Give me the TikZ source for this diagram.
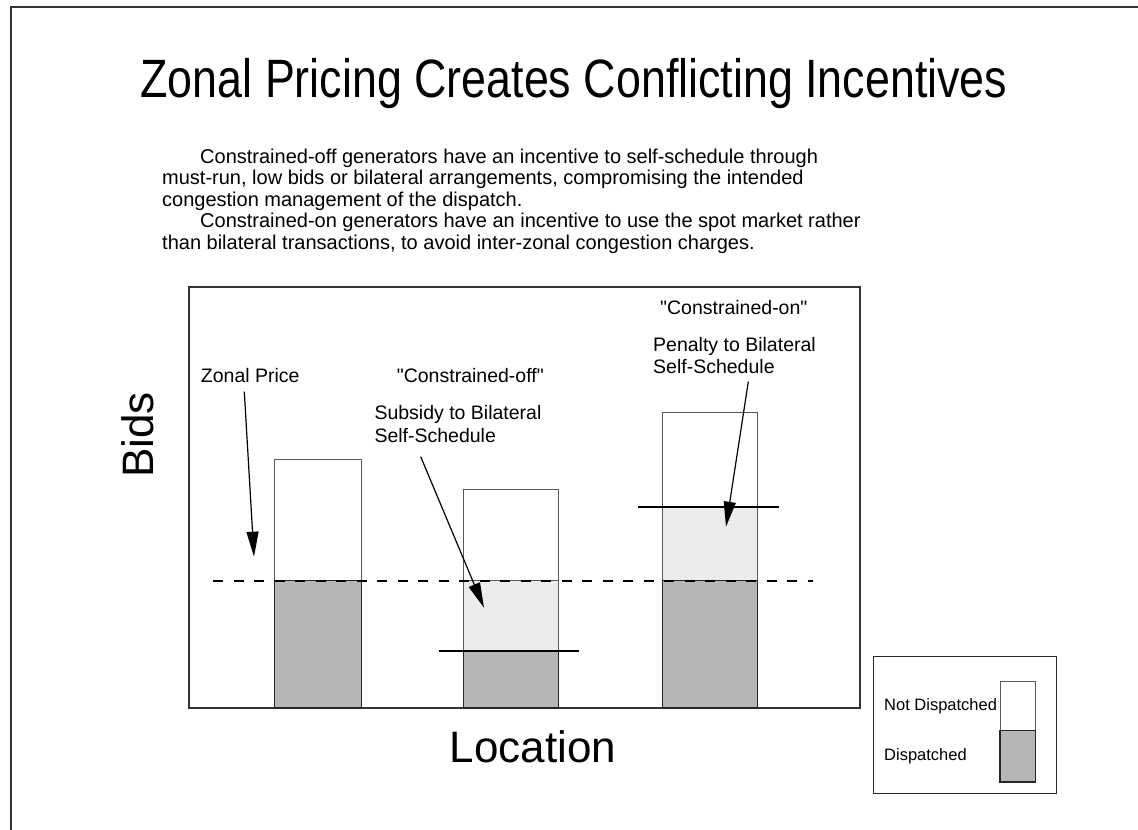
\documentclass[tikz,border=0pt]{standalone}
\usepackage{fontspec}
\setmainfont{Liberation Sans}[Ligatures=TeXOff]
\usetikzlibrary{arrows.meta}
\definecolor{dispgray}{RGB}{182,182,182}
\definecolor{palegray}{RGB}{236,236,236}
\definecolor{framegray}{RGB}{50,50,50}
\begin{document}
\begin{tikzpicture}[x=1pt,y=-1pt,
  lbl/.style={anchor=base west, inner sep=0pt, font=\fontsize{19.5}{23}\selectfont},
  para/.style={anchor=base west, inner sep=0pt, font=\fontsize{20}{21.5}\selectfont},
  legtext/.style={anchor=base west, inner sep=0pt, font=\fontsize{16.5}{19}\selectfont},
  axislbl/.style={anchor=base, inner sep=0pt, font=\fontsize{44}{50}\selectfont},
  openpart/.style={fill=white, draw=black!65, line width=0.9pt},
  midpart/.style={fill=palegray, draw=black!65, line width=0.9pt},
  disppart/.style={fill=dispgray, draw=black!85, line width=1.2pt},
  level/.style={line width=2.2pt, black},
  zonal/.style={line width=2.2pt, black, dash pattern=on 10pt off 10.5pt},
  callout/.style={line width=1.2pt, black, -{Triangle[length=25pt,width=12pt]}},
]
\useasboundingbox (0,0) rectangle (1138,830);
\fill[white] (0,0) rectangle (1138,830);
% outer frame
\draw[framegray, line width=2pt] (10.5,830) -- (10.5,6.5) -- (1138,6.5);

% title
\node[anchor=base, inner sep=0pt, xscale=0.83, font=\fontsize{54}{60}\selectfont] (title) at (574,97)
  {Zonal Pricing Creates Conflicting Incentives};

% paragraph
\node[para] (p1) at (200,163) {Constrained-off generators have an incentive to self-schedule through};
\node[para] (p2) at (162,184.5) {must-run, low bids or bilateral arrangements, compromising the intended};
\node[para] (p3) at (162,206) {congestion management of the dispatch.};
\node[para] (p4) at (200,227.5) {Constrained-on generators have an incentive to use the spot market rather};
\node[para] (p5) at (162,249) {than bilateral transactions, to avoid inter-zonal congestion charges.};

% chart frame
\draw[black!80, line width=1.2pt] (189,287) rectangle (860,708);

% bar 1
\draw[openpart] (274.3,459.3) rectangle (361.7,580.7);
\draw[disppart] (274.3,580.7) rectangle (361.7,708);
% bar 2
\draw[openpart] (463.3,489.3) rectangle (558.3,580.7);
\draw[midpart] (463.3,580.7) rectangle (558.3,651.3);
\draw[disppart] (463.3,651.3) rectangle (558.3,708);
% bar 3
\draw[openpart] (662.7,412.3) rectangle (757.3,506.7);
\draw[midpart] (662.7,506.7) rectangle (757.3,580.7);
\draw[disppart] (662.7,580.7) rectangle (757.3,708);

% zonal price line and bilateral levels
\coordinate (zl) at (213.3,580.7);
\coordinate (zr) at (812.7,580.7);
\draw[zonal] (zl) -- (zr);
\coordinate (offl) at (439.3,651.3);
\coordinate (offr) at (579,651.3);
\draw[level] (offl) -- (offr);
\coordinate (onl) at (638.3,506.7);
\coordinate (onr) at (779.3,506.7);
\draw[level] (onl) -- (onr);

% labels
\node[lbl] (zp) at (200.7,382) {Zonal Price};
\node[lbl] (coff) at (396.7,382) {"Constrained-off"};
\node[lbl] (sub1) at (374.3,419) {Subsidy to Bilateral};
\node[lbl] (sub2) at (374.3,442) {Self-Schedule};
\node[lbl] (con) at (660,314) {"Constrained-on"};
\node[lbl] (pen1) at (653,351) {Penalty to Bilateral};
\node[lbl] (pen2) at (653,373) {Self-Schedule};

% callout arrows
\coordinate (zpS) at (244.3,391.7);
\coordinate (zpT) at (254,556.7);
\draw[callout] (zpS) -- (zpT);
\coordinate (subS) at (420.7,456.7);
\coordinate (subT) at (484,607.7);
\draw[callout] (subS) -- (subT);
\coordinate (penS) at (748.3,381.7);
\coordinate (penT) at (726,526.7);
\draw[callout] (penS) -- (penT);

% axis labels
\node[axislbl, rotate=90] (bids) at (153,435) {Bids};
\node[axislbl] (loc) at (533,762) {Location};

% legend
\draw[black!85, line width=1.2pt] (873.3,656.7) rectangle (1056.7,793.3);
\draw[openpart] (1000,681) rectangle (1035.7,730.7);
\draw[disppart] (1000,730.7) rectangle (1035.7,782);
\node[legtext] (lnd) at (884,710) {Not Dispatched};
\node[legtext] (ld) at (884,760) {Dispatched};
\end{tikzpicture}
\end{document}
